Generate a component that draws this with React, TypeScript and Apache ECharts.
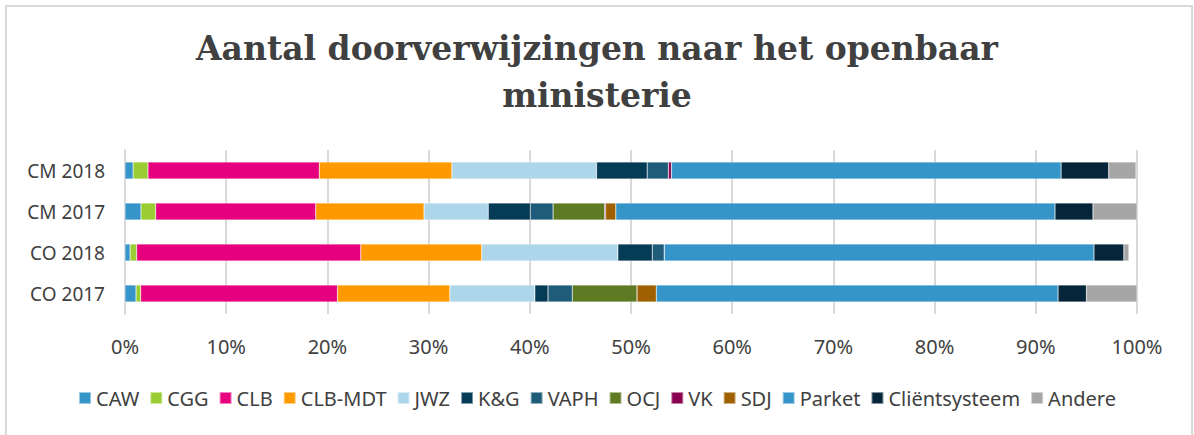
import React, { useEffect, useRef } from "react";
import * as echarts from "echarts";

const categories = ["CM 2018", "CM 2017", "CO 2018", "CO 2017"];

const seriesNames = [
  "CAW", "CGG", "CLB", "CLB-MDT", "JWZ", "K&G", "VAPH", "OCJ", "VK", "SDJ", "Parket", "Cliëntsysteem", "Andere",
];

// percentages per category (CM 2018, CM 2017, CO 2018, CO 2017)
const caw = [0.8, 1.58, 0.5, 1.09];
const cgg = [1.47, 1.45, 0.65, 0.46];
const clb = [16.93, 15.82, 22.15, 19.45];
const clbMdt = [13.1, 10.7, 11.95, 11.1];
const jwz = [14.3, 6.35, 13.45, 8.4];
const kg = [5.0, 4.15, 3.4, 1.3];
const vaph = [2.1, 2.25, 1.2, 2.4];
const ocj = [0, 5.1, 0, 6.4];
const vk = [0.3, 0.1, 0, 0];
const sdj = [0, 1.0, 0, 1.9];
const parket = [38.5, 43.4, 42.45, 39.7];
const clientsysteem = [4.7, 3.75, 2.95, 2.8];
const andere = [2.7, 4.35, 0.5, 5.0];

const seriesValues = [caw, cgg, clb, clbMdt, jwz, kg, vaph, ocj, vk, sdj, parket, clientsysteem, andere];

const colors = [
  "#3594c8", "#9acd32", "#e6007e", "#ff9900", "#aed6ea", "#063b55", "#1f5c7a",
  "#5e7a23", "#8a0050", "#9e6000", "#3594c8", "#05263a", "#a6a6a6",
];

const xTicks = [0, 10, 20, 30, 40, 50, 60, 70, 80, 90, 100];

export default function App() {
  const ref = useRef<HTMLDivElement>(null);
  useEffect(() => {
    if (!ref.current) return;
    const chart = echarts.init(ref.current, undefined, { renderer: "svg" });
    const textColor = "#404040";
    chart.setOption({
      animation: false,
      backgroundColor: "#ffffff",
      title: {
        text: "Aantal doorverwijzingen naar het openbaar\nministerie",
        left: "center",
        top: 20,
        textStyle: {
          fontFamily: "DejaVu Serif",
          fontWeight: "bold",
          fontSize: 33,
          lineHeight: 47,
          color: "#404040",
        },
      },
      graphic: [
        {
          type: "rect",
          shape: { x: 6, y: 6, width: 1186, height: 440 },
          style: { fill: "none", stroke: "#d9d9d9", lineWidth: 2 },
          silent: true,
        },
      ],
      legend: {
        bottom: 22,
        left: "center",
        itemWidth: 12,
        itemHeight: 12,
        itemGap: 10,
        icon: "rect",
        textStyle: {
          fontFamily: "Noto Sans",
          fontSize: 20,
          color: textColor,
        },
        data: seriesNames.map((n, i) => ({ name: n, itemStyle: { color: colors[i] } })),
      },
      grid: { left: 125, right: 57, top: 150, bottom: 121, containLabel: false },
      xAxis: {
        type: "value",
        min: 0,
        max: 100,
        interval: 10,
        axisLine: { show: false },
        axisTick: { show: false },
        splitLine: { show: true, lineStyle: { color: "#d9d9d9", width: 2 } },
        axisLabel: {
          formatter: (v: number) => (xTicks.includes(v) ? v + "%" : ""),
          fontFamily: "Noto Sans",
          fontSize: 20,
          color: textColor,
          margin: 22,
        },
      },
      yAxis: {
        type: "category",
        inverse: true,
        data: categories,
        axisLine: { show: true, lineStyle: { color: "#d9d9d9", width: 2 } },
        axisTick: { show: false },
        axisLabel: {
          fontFamily: "Noto Sans",
          fontSize: 19,
          color: textColor,
          margin: 20,
        },
      },
      series: seriesNames.map((name, i) => ({
        name,
        type: "bar",
        stack: "total",
        barWidth: 17,
        data: seriesValues[i],
        itemStyle: { color: colors[i], borderColor: "rgba(255,255,255,0.5)", borderWidth: 0.5 },
        emphasis: { disabled: true },
      })),
    });
    return () => chart.dispose();
  }, []);
  return (
    <div
      ref={ref}
      style={{ position: "fixed", left: 0, top: 0, width: 1194, height: 435 }}
    />
  );
}
